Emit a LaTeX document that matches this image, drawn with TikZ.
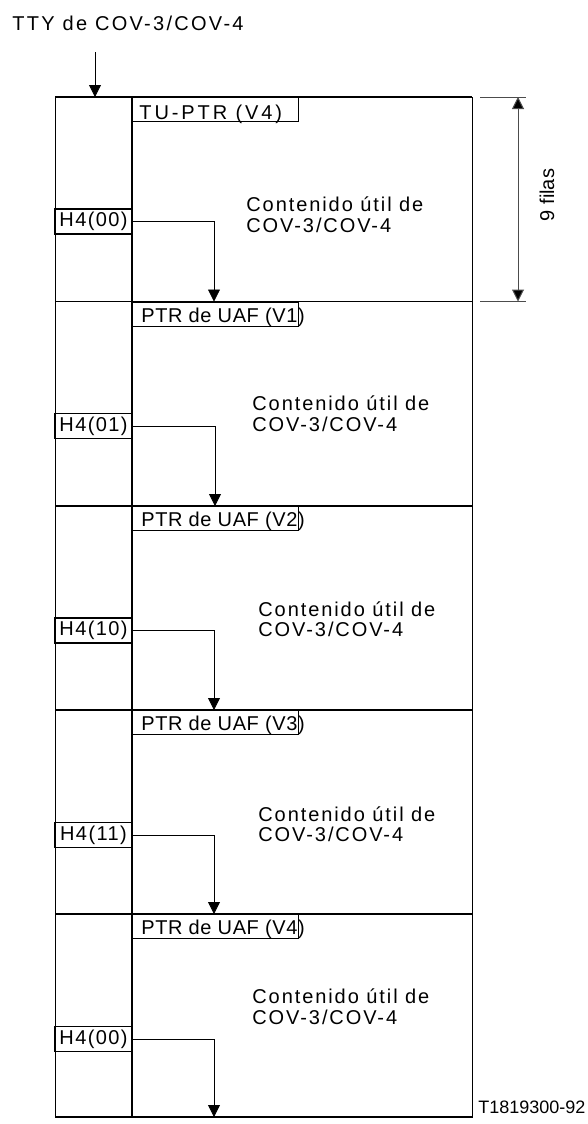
\documentclass[tikz,border=0pt]{standalone}
\usepackage{fontspec}
\setmainfont{Liberation Sans}
\newfontfamily\fTitle{Liberation Sans}[LetterSpace=11.5]
\newfontfamily\fCont{Liberation Sans}[LetterSpace=9.6]
\newfontfamily\fTU{Liberation Sans}[LetterSpace=14.5]
\newfontfamily\fPTR{Liberation Sans}[LetterSpace=3]
\newfontfamily\fHfour{Liberation Sans}[LetterSpace=7]
\usetikzlibrary{arrows.meta}
\begin{document}
\begin{tikzpicture}[x=0.5pt,y=-0.5pt,
  frame/.style={line width=0.7pt},
  conn/.style={line width=0.4pt,-{Triangle[width=6pt,length=6pt]}},
  dim/.style={line width=0.5pt,draw=black!70,{Triangle[width=6pt,length=6pt,fill=black]}-{Triangle[width=6pt,length=6pt,fill=black]}},
  ext/.style={line width=0.4pt,draw=black!70},
  txtbase/.style={inner sep=0pt,anchor=base west},
  cont/.style={txtbase,font=\fCont\fontsize{10}{12}\selectfont},
  ptrtxt/.style={txtbase,font=\fPTR\fontsize{10}{12}\selectfont},
  tutxt/.style={txtbase,font=\fTU\fontsize{10}{12}\selectfont},
  pbox/.style={draw,line width=0.5pt,anchor=north west,inner sep=0pt,minimum width=83pt,minimum height=12pt},
  hbox/.style={draw,line width=0.6pt,inner sep=0pt,minimum width=38.5pt,minimum height=12.5pt,font=\fHfour\fontsize{10}{12}\selectfont}
]
\useasboundingbox (0,0) rectangle (588,1124);

% title and entry arrow
\node[txtbase,font=\fTitle\fontsize{10}{12}\selectfont] (title) at (12,30) {TTY de COV-3/COV-4};
\coordinate (t0) at (95,52);
\coordinate (t1) at (95,97);
\draw[conn] (t0) -- (t1);

% frame
\draw[line width=0.5pt] (55,97) rectangle (472,1117);
\draw[frame] (132,97) -- (132,1117);
\draw[frame] (55,97) -- (472,97);
\draw[frame] (55,301.5) -- (472,301.5);
\draw[frame] (55,506) -- (472,506);
\draw[frame] (55,710) -- (472,710);
\draw[frame] (55,914) -- (472,914);
\draw[frame] (55,1117) -- (472,1117);

% pointer boxes
\node[pbox] (p1) at (132,97) {};
\node[tutxt] (p1t) at (139,119) {TU-PTR (V4)};
\node[pbox] (p2) at (132,301.5) {};
\node[ptrtxt] (p2t) at (141,322) {PTR de UAF (V1)};
\node[pbox] (p3) at (132,506) {};
\node[ptrtxt] (p3t) at (141,526.5) {PTR de UAF (V2)};
\node[pbox] (p4) at (132,710) {};
\node[ptrtxt] (p4t) at (141,730.5) {PTR de UAF (V3)};
\node[pbox] (p5) at (132,914) {};
\node[ptrtxt] (p5t) at (141,934.5) {PTR de UAF (V4)};

% contents
\node[cont] (c1a) at (246,211.5) {Contenido útil de};
\node[cont] (c1b) at (246,232) {COV-3/COV-4};
\node[cont] (c2a) at (252,410) {Contenido útil de};
\node[cont] (c2b) at (252,431.5) {COV-3/COV-4};
\node[cont] (c3a) at (258,616) {Contenido útil de};
\node[cont] (c3b) at (258,636.5) {COV-3/COV-4};
\node[cont] (c4a) at (258,821) {Contenido útil de};
\node[cont] (c4b) at (258,841.5) {COV-3/COV-4};
\node[cont] (c5a) at (252,1003) {Contenido útil de};
\node[cont] (c5b) at (252,1024) {COV-3/COV-4};

% H4 boxes
\node[hbox] (h1) at (93.5,221.5) {H4(00)};
\node[hbox] (h2) at (93.5,426) {H4(01)};
\node[hbox] (h3) at (93.5,630.5) {H4(10)};
\node[hbox] (h4) at (93.5,835) {H4(11)};
\node[hbox] (h5) at (93.5,1039) {H4(00)};

\coordinate (a1) at (214,301.5);
\coordinate (a2) at (215,506);
\coordinate (a3) at (214,710);
\coordinate (a4) at (214,914);
\coordinate (a5) at (214,1117);
\draw[conn] (h1.east) -| (a1);
\draw[conn] (h2.east) -| (a2);
\draw[conn] (h3.east) -| (a3);
\draw[conn] (h4.east) -| (a4);
\draw[conn] (h5.east) -| (a5);

% dimension
\coordinate (e1a) at (480,97);
\coordinate (e1b) at (526,97);
\coordinate (e2a) at (480,301.5);
\coordinate (e2b) at (526,301.5);
\draw[ext] (e1a) -- (e1b);
\draw[ext] (e2a) -- (e2b);
\coordinate (d1) at (518,97);
\coordinate (d2) at (518,301.5);
\draw[dim] (d1) -- (d2);
\node[rotate=90,inner sep=0pt,font=\fontsize{10}{12}\selectfont] (nf) at (547,195) {9 filas};

% figure number
\node[txtbase,font=\fontsize{9}{11}\selectfont] (fig) at (478,1113) {T1819300-92};
\end{tikzpicture}
\end{document}
